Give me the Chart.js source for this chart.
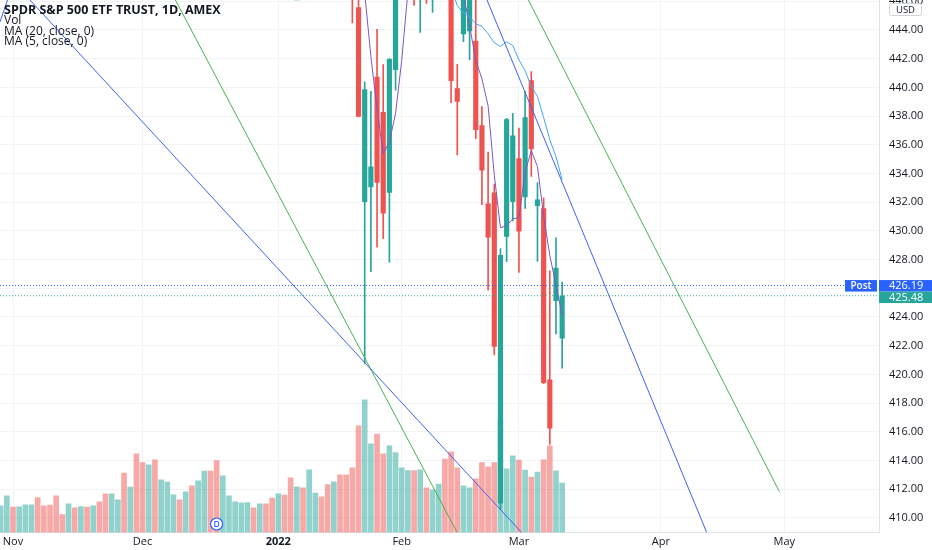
<!DOCTYPE html>
<html>
<head>
<meta charset="utf-8">
<script src="https://cdn.jsdelivr.net/npm/chart.js@4.4.1/dist/chart.umd.min.js"></script>
<style>
html,body{margin:0;padding:0;background:#ffffff;overflow:hidden;}
#wrap{width:932px;height:550px;}
</style>
</head>
<body>
<div id="wrap"><canvas id="c" width="932" height="550"></canvas></div>
<script>
// ---- categories (trading days) ----
const dates = ['2021-10-28','2021-10-29','2021-11-01','2021-11-02','2021-11-03','2021-11-04','2021-11-05','2021-11-08','2021-11-09','2021-11-10','2021-11-11','2021-11-12','2021-11-15','2021-11-16','2021-11-17','2021-11-18','2021-11-19','2021-11-22','2021-11-23','2021-11-24','2021-11-26','2021-11-29','2021-11-30','2021-12-01','2021-12-02','2021-12-03','2021-12-06','2021-12-07','2021-12-08','2021-12-09','2021-12-10','2021-12-13','2021-12-14','2021-12-15','2021-12-16','2021-12-17','2021-12-20','2021-12-21','2021-12-22','2021-12-23','2021-12-27','2021-12-28','2021-12-29','2021-12-30','2021-12-31','2022-01-03','2022-01-04','2022-01-05','2022-01-06','2022-01-07','2022-01-10','2022-01-11','2022-01-12','2022-01-13','2022-01-14','2022-01-18','2022-01-19','2022-01-20','2022-01-21','2022-01-24','2022-01-25','2022-01-26','2022-01-27','2022-01-28','2022-01-31','2022-02-01','2022-02-02','2022-02-03','2022-02-04','2022-02-07','2022-02-08','2022-02-09','2022-02-10','2022-02-11','2022-02-14','2022-02-15','2022-02-16','2022-02-17','2022-02-18','2022-02-22','2022-02-23','2022-02-24','2022-02-25','2022-02-28','2022-03-01','2022-03-02','2022-03-03','2022-03-04','2022-03-07','2022-03-08','2022-03-09','2022-03-10'];

// ---- series values ----
const opens = [455.46,455.87,460.30,460.22,461.30,465.36,469.28,469.70,469.32,465.58,465.21,465.12,468.64,467.15,469.00,469.24,469.61,470.89,467.22,466.06,462.34,464.07,462.00,461.64,450.73,459.17,456.13,464.41,468.70,468.15,469.23,470.19,463.09,463.42,472.57,461.55,454.48,458.61,462.79,468.75,472.06,477.72,476.98,477.93,475.64,476.30,479.22,477.16,467.89,467.95,462.70,465.23,471.59,472.19,461.19,459.74,458.13,453.75,445.56,432.03,433.06,440.72,438.26,432.68,441.24,450.68,455.50,450.95,446.35,449.51,446.73,455.22,451.34,449.41,439.92,443.73,443.93,443.22,437.33,431.89,432.66,411.02,429.61,432.03,435.04,432.37,440.47,431.75,431.55,419.62,425.14,422.52];
const highs = [458.40,459.56,460.70,462.23,465.15,467.00,470.65,470.23,469.57,467.38,465.29,467.86,468.81,470.49,469.19,470.01,470.94,473.54,469.10,469.57,463.90,466.56,464.03,464.67,459.07,460.30,460.79,468.88,470.00,469.63,470.90,470.56,465.74,470.86,472.87,464.74,455.40,463.21,467.81,472.19,477.31,478.81,478.56,479.00,476.86,477.85,479.98,477.98,470.82,469.20,465.74,469.85,473.20,472.88,465.09,459.96,459.61,458.74,448.06,440.38,439.72,444.04,441.59,442.00,450.28,453.63,458.12,452.97,452.78,450.99,451.92,457.88,457.71,451.61,441.60,446.28,448.06,446.57,438.66,435.50,433.26,428.76,437.84,438.20,437.17,439.72,441.11,433.37,432.30,427.21,429.51,426.43];
const lows = [455.45,455.56,458.20,460.08,460.83,464.99,466.92,468.20,465.88,462.04,463.75,464.11,466.23,467.07,467.48,466.34,468.50,467.35,464.45,465.19,457.77,461.73,455.30,450.29,450.31,448.92,453.56,458.65,466.83,466.14,466.51,466.27,460.25,460.74,464.80,458.06,451.14,456.31,462.58,468.64,472.01,476.06,475.92,475.67,474.67,473.85,475.58,468.28,465.43,464.65,456.60,462.05,468.94,463.44,459.90,455.31,451.46,444.50,437.95,420.76,427.15,428.86,429.45,427.82,439.81,446.94,453.05,445.71,443.83,445.85,445.22,455.00,447.20,438.94,435.30,443.18,441.94,436.42,431.82,425.86,421.35,410.64,427.86,430.70,427.11,431.57,433.80,427.88,419.36,415.12,422.82,420.44];
const closes = [458.32,459.25,460.04,461.90,464.72,466.91,468.53,468.93,467.38,463.62,463.77,467.27,467.43,469.28,468.14,469.73,468.89,467.57,468.19,469.44,458.97,464.60,455.56,450.50,457.40,453.42,458.79,468.28,469.52,466.35,470.74,466.57,463.36,470.60,466.45,459.87,454.98,463.06,467.69,470.60,477.26,476.87,477.48,476.16,474.96,477.71,477.55,468.38,467.94,466.09,465.51,469.75,471.02,464.53,464.72,456.49,451.75,446.75,437.98,439.84,434.47,433.38,431.24,441.95,449.91,452.95,457.35,446.60,448.70,447.26,450.94,457.54,449.32,440.46,439.02,446.10,446.60,437.06,434.23,429.57,421.95,428.30,437.75,436.63,429.98,437.89,435.71,432.17,419.43,416.25,427.41,425.48];
// volume in millions of shares
const volumes = [50.7,69.6,48.0,48.8,52.6,52.6,66.4,50.7,51.8,69.6,34.2,54.5,46.9,49.3,48.0,50.7,58.3,73.4,73.4,62.0,112.5,86.0,149.3,132.8,128.5,137.9,100.0,95.4,71.5,62.0,77.2,88.6,98.1,116.3,116.3,136.6,107.6,69.6,58.3,56.4,56.9,46.9,54.5,54.5,65.1,73.4,70.8,103.8,86.7,84.8,119.0,74.6,67.7,91.1,96.2,109.5,109.5,122.8,202.5,251.8,168.3,186.5,149.3,164.5,151.8,122.8,117.6,117.6,119.0,84.8,81.0,91.7,139.1,153.1,122.8,88.6,84.8,101.9,132.8,124.7,132.8,213.9,120.9,145.5,137.2,118.2,104.9,114.4,137.9,164.5,117.1,93.5];
// moving averages
const ma20Start = 64;
const ma20 = [455.85,454.61,453.60,452.51,451.55,450.61,449.88,449.27,448.18,446.98,445.70,445.18,444.92,444.43,444.25,443.73,443.11,442.85,443.18,442.91,441.92,441.16,440.08,439.36,437.90,436.35,435.17,433.57];
const ma5Start = 57;
const ma5 = [456.85,451.54,446.56,442.16,438.48,435.38,436.18,438.19,441.89,446.68,449.75,451.10,450.57,450.17,450.21,450.75,449.10,447.46,446.49,444.30,441.85,440.60,438.71,433.88,430.22,430.36,430.84,430.92,434.11,435.59,434.48,431.04,428.29,426.19,424.15];

// drawn trend lines: [barIndex, price] end points
const blueLine0 = [[-0.107,444.56],[1.108,446.09]];
const blueLine1 = [[4.755,446.09],[84.43,408.98]];
const greenLine1 = [[28.32,446.09],[73.98,408.98]];
const blueLine2 = [[78.82,446.09],[114.43,408.98]];
const greenLine2 = [[85.53,446.09],[126.2,411.83]];

const postPrice = 426.19;
const lastPrice = 425.48;
const dividendIdx = 35;

// ---- tick labels ----
const priceTicks = [410,412,414,416,418,420,422,424,426,428,430,432,434,436,438,440,442,444,446];
const monthTickIdx = [2,23,45,65,84,107,127];
const monthTickLabels = ['Nov','Dec','2022','Feb','Mar','Apr','May'];
const legendTitle = 'SPDR S&P 500 ETF TRUST, 1D, AMEX';
const legendLines = ['Vol','MA (20, close, 0)','MA (5, close, 0)'];

// ---- colours ----
const UP = '#26a69a', DOWN = '#ef5350';
const UPV = 'rgba(38,166,154,0.5)', DOWNV = 'rgba(239,83,80,0.5)';
const FONT = '"Open Sans", "Noto Sans", sans-serif';

const isUp = opens.map((o,i)=>closes[i]>=o);
const bodyData = opens.map((o,i)=>({x:i, y:[o, closes[i]]}));
const wickData = lows.map((l,i)=>({x:i, y:[l, highs[i]]}));
const volData = volumes.map((v,i)=>({x:i, y:v}));
const ma20Data = ma20.map((v,k)=>({x:ma20Start+k, y:v}));
const ma5Data = ma5.map((v,k)=>({x:ma5Start+k, y:v}));
const toPts = arr => arr.map(p=>({x:p[0], y:p[1]}));
const xMin = -0.107, xMax = 142.35;

function trend(data, color){
  return {type:'line', data:toPts(data), borderColor:color, borderWidth:1, pointRadius:0, tension:0, order:1, yAxisID:'y'};
}

const overlay = {
  id:'overlay',
  afterDraw(chart){
    const {ctx, scales} = chart;
    const y = scales.y, x = scales.x;
    ctx.save();
    // legend
    ctx.fillStyle = '#131722';
    ctx.textAlign = 'left';
    ctx.textBaseline = 'middle';
    ctx.font = 'bold 12.5px ' + FONT;
    ctx.fillText(legendTitle, 4, 10.5);
    ctx.font = '12px ' + FONT;
    legendLines.forEach((t,k)=>ctx.fillText(t, 4, 20.8 + k*10.5));

    // USD box
    ctx.fillStyle = '#ffffff';
    ctx.strokeStyle = '#d1d4dc';
    ctx.lineWidth = 1;
    ctx.beginPath();
    ctx.roundRect(889.5, 3.5, 32, 12, 2);
    ctx.fill(); ctx.stroke();
    ctx.fillStyle = '#131722';
    ctx.font = '9.5px ' + FONT;
    ctx.textAlign = 'center';
    ctx.fillText('USD', 905.5, 10);

    // price labels
    const yp = y.getPixelForValue(postPrice);
    const yl = Math.max(y.getPixelForValue(lastPrice), yp + 11.5);
    ctx.fillStyle = '#2962ff';
    ctx.fillRect(845, yp - 5.5, 32, 11.5);
    ctx.fillRect(879, yp - 5.5, 53, 11.5);
    ctx.fillStyle = UP;
    ctx.fillRect(879, yl - 5.5, 53, 11.5);
    ctx.fillStyle = '#ffffff';
    ctx.font = '600 10px ' + FONT;
    ctx.textAlign = 'center';
    ctx.fillText('Post', 861, yp + 0.5);
    ctx.font = '11px ' + FONT;
    ctx.textAlign = 'left';
    ctx.fillText(postPrice.toFixed(2), 889, yp + 0.5);
    ctx.fillText(lastPrice.toFixed(2), 889, yl + 0.5);

    // dividend marker
    const cx = x.getPixelForValue(dividendIdx);
    ctx.beginPath();
    ctx.arc(cx, 524, 6, 0, Math.PI*2);
    ctx.fillStyle = '#ffffff';
    ctx.fill();
    ctx.strokeStyle = '#2962ff';
    ctx.lineWidth = 1.2;
    ctx.stroke();
    ctx.fillStyle = '#2962ff';
    ctx.font = '600 8.5px ' + FONT;
    ctx.textAlign = 'center';
    ctx.fillText('D', cx, 524.5);
    ctx.restore();
  }
};

new Chart(document.getElementById('c'), {
  type:'bar',
  data:{
    datasets:[
      {type:'bar', data:volData, yAxisID:'yv', grouped:false, barThickness:5,
       backgroundColor:isUp.map(u=>u?UPV:DOWNV), borderWidth:0, order:10},
      {type:'bar', data:wickData, yAxisID:'y', grouped:false, barThickness:1,
       backgroundColor:isUp.map(u=>u?UP:DOWN), borderWidth:0, order:6},
      {type:'bar', data:bodyData, yAxisID:'y', grouped:false, barThickness:4.5, minBarLength:1,
       backgroundColor:isUp.map(u=>u?UP:DOWN), borderWidth:0, order:5},
      {type:'line', data:ma20Data, yAxisID:'y', borderColor:'#42a5f5', borderWidth:1, pointRadius:0, tension:0, order:3},
      {type:'line', data:ma5Data, yAxisID:'y', borderColor:'#7e57c2', borderWidth:1, pointRadius:0, tension:0, order:3},
      {type:'line', data:[{x:xMin,y:postPrice},{x:xMax,y:postPrice}], yAxisID:'y', borderColor:'#2962ff', borderWidth:1, borderDash:[1,2], pointRadius:0, order:2},
      {type:'line', data:[{x:xMin,y:lastPrice},{x:xMax,y:lastPrice}], yAxisID:'y', borderColor:UP, borderWidth:1, borderDash:[1,2], pointRadius:0, order:2},
      trend(blueLine0, '#3d63f0'),
      trend(blueLine1, '#3d63f0'),
      trend(blueLine2, '#3d63f0'),
      trend(greenLine1, '#4caf50'),
      trend(greenLine2, '#4caf50')
    ]
  },
  options:{
    responsive:false,
    animation:false,
    layout:{padding:0},
    plugins:{legend:{display:false}, tooltip:{enabled:false}},
    scales:{
      x:{
        type:'linear', min:xMin, max:xMax, offset:false, position:'bottom',
        grid:{color:'#f2f3f6', drawTicks:false, offset:false},
        border:{display:true, color:'#e0e3eb'},
        afterBuildTicks:(s)=>{ s.ticks = monthTickIdx.map(v=>({value:v})); },
        afterFit:(s)=>{ s.height = 17.5; s.paddingLeft = 0; s.paddingRight = 0; },
        ticks:{
          autoSkip:false, maxRotation:0, padding:3, color:'#131722',
          font:(c)=>({family:FONT, size:11, weight:(c.tick && c.tick.value===45)?'bold':'normal'}),
          callback:(v)=>monthTickLabels[monthTickIdx.indexOf(v)]
        }
      },
      y:{
        type:'linear', position:'right', min:408.98, max:446.09,
        grid:{color:'#f2f3f6', drawTicks:false},
        border:{display:true, color:'#e0e3eb'},
        afterBuildTicks:(s)=>{ s.ticks = priceTicks.map(v=>({value:v})); },
        afterFit:(s)=>{ s.width = 53; s.paddingTop = 0; s.paddingBottom = 0; },
        ticks:{autoSkip:false, padding:10, color:'#131722', font:{family:FONT, size:11},
          callback:(v)=>v.toFixed(2)}
      },
      yv:{type:'linear', display:false, min:0, max:1010}
    }
  },
  plugins:[overlay]
});
</script>
</body>
</html>
